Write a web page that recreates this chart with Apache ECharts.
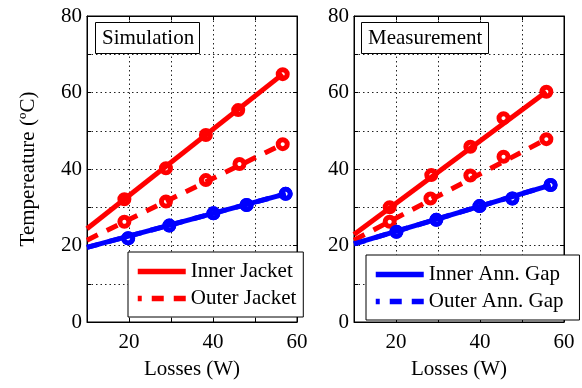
<!DOCTYPE html>
<html>
<head>
<meta charset="utf-8">
<script src="https://cdn.jsdelivr.net/npm/echarts@6/dist/echarts.min.js"></script>
<style>
  html, body { margin: 0; padding: 0; background: #fff; }
  #chart { width: 582px; height: 388px; }
</style>
</head>
<body>
<div id="chart"></div>
<script>
// ---- data ----
const xTicks = [10, 20, 30, 40, 50, 60]
const yTicks = [0, 20, 40, 60, 80]

// Simulation panel
const simInnerJacketX = [18.9, 28.8, 38.3, 46.0, 56.6]
const simInnerJacketY = [32.1, 40.2, 48.9, 55.4, 64.8]
const simOuterJacketX = [18.9, 28.8, 38.3, 46.3, 56.6]
const simOuterJacketY = [26.2, 31.5, 37.1, 41.3, 46.5]
const simInnerGapX = [19.8, 29.6, 40.1, 48.0, 57.3]
const simInnerGapY = [21.9, 25.2, 28.4, 30.6, 33.5]
const simOuterGapX = [19.8, 29.6, 40.1, 48.0, 57.3]
const simOuterGapY = [21.9, 25.2, 28.4, 30.6, 33.5]
// fit line values at x = 10 (inner jacket, outer jacket, inner gap, outer gap)
const simFitStart = [24.4, 21.4, 19.5, 19.5]

// Measurement panel
const measInnerJacketX = [18.5, 28.4, 37.7, 45.6, 55.8]
const measInnerJacketY = [30.0, 38.4, 45.8, 53.3, 60.2]
const measOuterJacketX = [18.5, 28.2, 37.7, 45.6, 55.8]
const measOuterJacketY = [26.2, 32.3, 38.3, 43.2, 47.8]
const measInnerGapX = [20.1, 29.6, 39.9, 47.7, 56.8]
const measInnerGapY = [23.6, 26.7, 30.3, 32.3, 35.8]
const measOuterGapX = [20.1, 29.6, 39.9, 47.7, 56.8]
const measOuterGapY = [23.6, 26.7, 30.3, 32.3, 35.8]
const measFitStart = [22.9, 21.4, 20.4, 20.4]

const names = ['Inner Jacket', 'Outer Jacket', 'Inner Ann. Gap', 'Outer Ann. Gap']
const colors = ['#ff0000', '#ff0000', '#0000ff', '#0000ff']
const dashed = [false, true, false, true]

const FONT = 'Liberation Serif'
const FS = 21

const pairs = (xs, ys) => xs.map((x, i) => [x, ys[i]])

// one panel -> ring markers (under) + fit line (over)
const panelSeries = (idx, sets, starts) => {
  const out = []
  // outer gap drawn first so the solid gap line sits on top
  const order = [3, 1, 0, 2]
  order.forEach(k => {
    const [xs, ys] = sets[k]
    out.push({
      name: names[k] + ' pts',
      type: 'scatter',
      xAxisIndex: idx,
      yAxisIndex: idx,
      data: pairs(xs, ys),
      symbol: 'circle',
      symbolSize: 9,
      itemStyle: { color: '#fff', borderColor: colors[k], borderWidth: 5, opacity: 1 },
      z: 2,
      silent: true
    })
  })
  order.forEach(k => {
    const [xs, ys] = sets[k]
    const n = xs.length - 1
    out.push({
      name: names[k],
      type: 'line',
      xAxisIndex: idx,
      yAxisIndex: idx,
      data: [[10, starts[k]], [xs[n], ys[n]]],
      symbol: 'none',
      color: colors[k],
      lineStyle: { color: colors[k], width: 5, type: dashed[k] ? [12, 10] : 'solid' },
      z: 3,
      silent: true
    })
  })
  return out
}

const gridLine = { show: true, lineStyle: { color: '#222', type: [1.5, 3], width: 1 } }
const tick = { show: true, inside: true, length: 4, lineStyle: { color: '#000' } }

const xAxisFor = idx => ({
  type: 'value',
  gridIndex: idx,
  min: 10,
  max: 60,
  interval: 10,
  name: 'Losses (W)',
  nameLocation: 'middle',
  nameGap: 37,
  nameTextStyle: { fontFamily: FONT, fontSize: FS, color: '#000' },
  axisLine: { show: true, onZero: false, lineStyle: { color: '#000', width: 1 } },
  axisTick: tick,
  axisLabel: {
    fontFamily: FONT, fontSize: FS, color: '#000', margin: 10,
    formatter: v => (xTicks.includes(v) && v % 20 === 0 ? String(v) : '')
  },
  splitLine: gridLine
})

// mirrored ticks on the top edge
const xTopFor = idx => ({
  type: 'value',
  gridIndex: idx,
  position: 'top',
  min: 10,
  max: 60,
  interval: 10,
  axisLine: { show: true, onZero: false, lineStyle: { color: '#000', width: 1 } },
  axisTick: tick,
  axisLabel: { show: false },
  splitLine: { show: false }
})

const yAxisFor = idx => ({
  type: 'value',
  gridIndex: idx,
  min: 0,
  max: 80,
  interval: 10,
  name: idx === 0 ? 'Tempereature (ºC)' : '',
  nameLocation: 'middle',
  nameGap: 48,
  nameTextStyle: { fontFamily: FONT, fontSize: FS, color: '#000' },
  axisLine: { show: true, onZero: false, lineStyle: { color: '#000', width: 1 } },
  axisTick: tick,
  axisLabel: {
    fontFamily: FONT, fontSize: FS, color: '#000', margin: 5,
    formatter: v => (yTicks.includes(v) ? String(v) : '')
  },
  splitLine: gridLine
})

// mirrored ticks on the right edge
const yRightFor = idx => ({
  type: 'value',
  gridIndex: idx,
  position: 'right',
  min: 0,
  max: 80,
  interval: 10,
  axisLine: { show: true, onZero: false, lineStyle: { color: '#000', width: 1 } },
  axisTick: tick,
  axisLabel: { show: false },
  splitLine: { show: false }
})

const titleBox = (text, left) => ({
  text,
  left,
  top: 22,
  padding: [5, 6, 4, 7],
  borderColor: '#000',
  borderWidth: 1,
  backgroundColor: '#fff',
  textStyle: { fontFamily: FONT, fontSize: FS, fontWeight: 'normal', color: '#000', lineHeight: 23 }
})

const legendBox = (data, left, top, padRight) => ({
  data,
  orient: 'vertical',
  left,
  top,
  padding: [9, padRight, 8, 7],
  itemGap: 6,
  itemWidth: 48,
  itemHeight: 14,
  selectedMode: false,
  borderColor: '#000',
  borderWidth: 1,
  backgroundColor: '#fff',
  itemStyle: { opacity: 0 },
  lineStyle: { width: 5.5, dashOffset: 8 },
  textStyle: { fontFamily: FONT, fontSize: FS, color: '#000', lineHeight: 21 },
  z: 10
})

const chart = echarts.init(document.getElementById('chart'), null, { renderer: 'canvas' })

chart.setOption({
  animation: false,
  backgroundColor: '#fff',
  title: [titleBox('Simulation', 95), titleBox('Measurement', 361)],
  legend: [
    legendBox(['Inner Jacket', 'Outer Jacket'], 128, 252, 7),
    legendBox(['Inner Ann. Gap', 'Outer Ann. Gap'], 366, 255, 16)
  ],
  grid: [
    { left: 87, right: 285, top: 16, bottom: 66, show: true, borderColor: '#000', borderWidth: 1, backgroundColor: 'transparent' },
    { left: 354, right: 18, top: 16, bottom: 66, show: true, borderColor: '#000', borderWidth: 1, backgroundColor: 'transparent' }
  ],
  xAxis: [xAxisFor(0), xAxisFor(1), xTopFor(0), xTopFor(1)],
  yAxis: [yAxisFor(0), yAxisFor(1), yRightFor(0), yRightFor(1)],
  series: [
    ...panelSeries(0, [
      [simInnerJacketX, simInnerJacketY],
      [simOuterJacketX, simOuterJacketY],
      [simInnerGapX, simInnerGapY],
      [simOuterGapX, simOuterGapY]
    ], simFitStart),
    ...panelSeries(1, [
      [measInnerJacketX, measInnerJacketY],
      [measOuterJacketX, measOuterJacketY],
      [measInnerGapX, measInnerGapY],
      [measOuterGapX, measOuterGapY]
    ], measFitStart)
  ]
})
</script>
</body>
</html>
